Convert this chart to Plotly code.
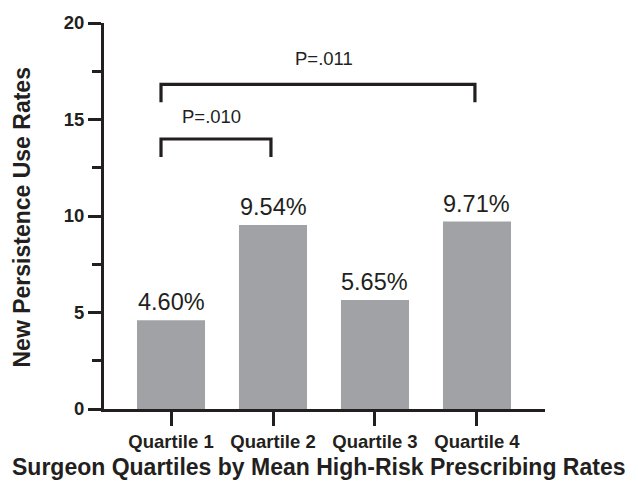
import plotly.graph_objects as go

# Data
categories = ["Quartile 1", "Quartile 2", "Quartile 3", "Quartile 4"]
rates = [4.60, 9.54, 5.65, 9.71]
rate_labels = ["4.60%", "9.54%", "5.65%", "9.71%"]
y_ticks = [0, 5, 10, 15, 20]

# Significance comparisons: (left index, right index, p-value text)
comparisons = [(0, 1, "P=.010"), (0, 3, "P=.011")]
bracket_levels = [13.99, 16.82]
bracket_drop = [0.93, 0.93]
p_label_x = [0.40, 1.50]
p_label_y = [15.17, 18.18]

INK = "#231f20"
BAR = "#a1a2a6"
FONT = "Liberation Sans, Arial, sans-serif"

fig = go.Figure()
fig.add_trace(go.Bar(
    x=list(range(len(categories))), y=rates, width=0.667,
    marker=dict(color=BAR, line=dict(width=0)),
    hoverinfo="skip",
))

# Value labels above bars
for i, (v, lab) in enumerate(zip(rates, rate_labels)):
    fig.add_annotation(x=i, y=v, text=lab, showarrow=False, xref="x", yref="y",
                       yanchor="bottom", yshift=3,
                       font=dict(family=FONT, size=23.5, color=INK))

# Comparison brackets
for (a, b, ptxt), lvl, drop, px, py in zip(comparisons, bracket_levels, bracket_drop, p_label_x, p_label_y):
    x0 = a - 0.098
    x1 = b - 0.02
    fig.add_shape(type="path",
                  path=f"M {x0},{lvl - drop} L {x0},{lvl} L {x1},{lvl} L {x1},{lvl - drop}",
                  xref="x", yref="y", line=dict(color=INK, width=3.2))
    fig.add_annotation(x=px, y=py, text=ptxt, showarrow=False, xref="x", yref="y",
                       font=dict(family=FONT, size=18.5, color=INK))

axis_common = dict(showline=True, linewidth=3, linecolor=INK, showgrid=False,
                   zeroline=False, ticks="outside", tickwidth=3, tickcolor=INK)

fig.update_xaxes(**axis_common, range=[-0.657, 3.667], ticklen=14,
                 tickvals=list(range(len(categories))),
                 ticktext=[f"<b>{c}</b>" for c in categories],
                 tickfont=dict(family=FONT, size=18.5, color=INK))
fig.update_yaxes(**axis_common, range=[0, 20], ticklen=13,
                 tickvals=y_ticks, ticktext=[f"<b>{t}</b>" for t in y_ticks],
                 tickfont=dict(family=FONT, size=18.5, color=INK),
                 minor=dict(dtick=2.5, ticks="outside", ticklen=9, tickwidth=3, tickcolor=INK))

fig.update_layout(
    width=638, height=487,
    margin=dict(l=104, r=93, t=20, b=78),
    plot_bgcolor="white", paper_bgcolor="white",
    showlegend=False,
)

# Axis titles, positioned in pixel terms relative to the plot area
plot_l, plot_b = 104, 487 - 78
plot_w = 638 - 104 - 93
plot_h = 487 - 20 - 78
fig.add_annotation(text="<b>Surgeon Quartiles by Mean High-Risk Prescribing Rates</b>",
                   showarrow=False, xref="paper", yref="paper",
                   x=(319 - plot_l) / plot_w, y=-(467 - plot_b) / plot_h,
                   xanchor="center", yanchor="middle",
                   font=dict(family=FONT, size=23, color=INK))
fig.add_annotation(text="<b>New Persistence Use Rates</b>", textangle=-90, showarrow=False,
                   xref="paper", yref="paper",
                   x=(22 - plot_l) / plot_w, y=(plot_b - 216) / plot_h,
                   xanchor="center", yanchor="middle",
                   font=dict(family=FONT, size=23, color=INK))

fig.write_html("out.html")
